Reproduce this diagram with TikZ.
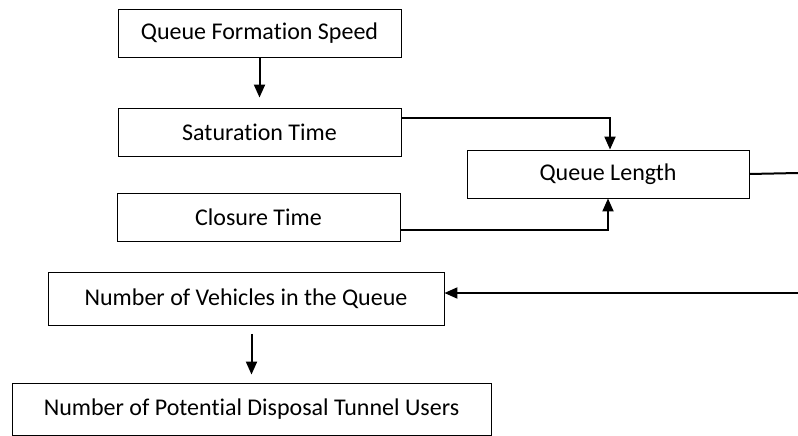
\documentclass[tikz,border=0pt]{standalone}
\usepackage{fontspec}
\setmainfont[Ligatures=NoCommon]{Carlito}
\usetikzlibrary{arrows.meta}

\begin{document}
\begin{tikzpicture}[x=1pt, y=-1pt,
    box/.style={draw, line width=0.9pt, minimum height=48pt, inner sep=0pt,
        font=\fontsize{24}{28}\selectfont},
    flow/.style={line width=2pt, -{Triangle[length=13pt,width=11pt]}},
    plain/.style={line width=2pt}]

    % Cadre de l'image
    \useasboundingbox[fill=white] (0,0) rectangle (798,436);

    % Boites
    \node[box, minimum width=283pt] (qfs) at (259.5,33) {Queue Formation Speed};
    \node[box, minimum width=283pt] (sat) at (259.5,132) {Saturation Time};
    \node[box, minimum width=283pt] (clos) at (258.5,217) {Closure Time};
    \node[box, minimum width=282pt] (qlen) at (608,174) {Queue Length};
    \node[box, minimum width=396pt, minimum height=53pt] (nveh) at (246,299) {Number of Vehicles in the Queue};
    \node[box, minimum width=479pt, minimum height=52pt] (nusers) at (251.5,409) {Number of Potential Disposal Tunnel Users};

    % Bords droits (la suite est hors cadre)
    \coordinate (redgeA) at (798,173);
    \coordinate (redgeB) at (798,293);

    % Liaisons
    \draw[flow, shorten >=10pt] (qfs.south) -- (qfs.south |- sat.north);
    \draw[flow] ([yshift=14pt]sat.east) -| ([xshift=2pt]qlen.north);
    \draw[flow] ([yshift=-13pt]clos.east) -| (qlen.south);
    \draw[plain] (qlen.east) -- (redgeA);
    \draw[flow] (redgeB) -- (redgeB -| nveh.east);
    \draw[flow, shorten <=8pt, shorten >=8pt] (nveh.south -| nusers.north) -- (nusers.north);

\end{tikzpicture}
\end{document}
